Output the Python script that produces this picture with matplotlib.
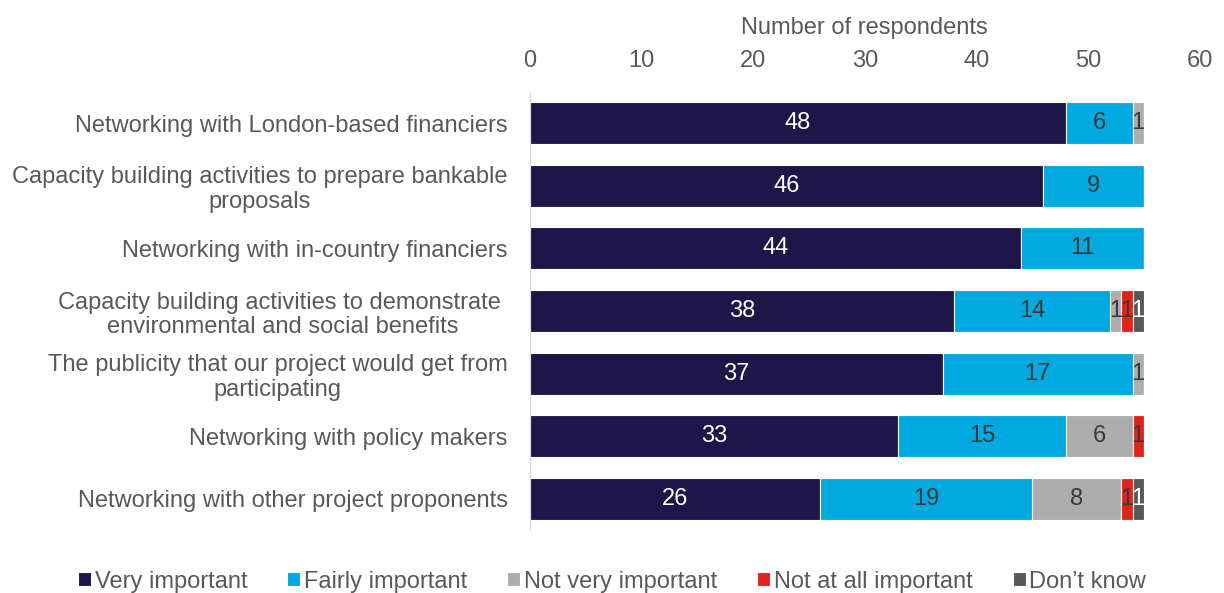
import numpy as np
import matplotlib.pyplot as plt

plt.rcParams['font.family'] = ['Liberation Sans', 'DejaVu Sans']

categories = [
    'Networking with London-based financiers',
    'Capacity building activities to prepare bankable\nproposals',
    'Networking with in-country financiers',
    'Capacity building activities to demonstrate \nenvironmental and social benefits',
    'The publicity that our project would get from\nparticipating',
    'Networking with policy makers',
    'Networking with other project proponents',
]
series_names = ['Very important', 'Fairly important', 'Not very important',
                'Not at all important', 'Don\u2019t know']
very_important = [48, 46, 44, 38, 37, 33, 26]
fairly_important = [6, 9, 11, 14, 17, 15, 19]
not_very_important = [1, 0, 0, 1, 1, 6, 8]
not_at_all_important = [0, 0, 0, 1, 0, 1, 1]
dont_know = [0, 0, 0, 1, 0, 0, 1]

colors = ['#1e1548', '#00a9e0', '#adadad', '#e3231a', '#595959']
label_colors = ['white', '#3a3a3a', '#3a3a3a', '#3a3a3a', 'white']
text_grey = '#595959'
fs = 17

fig = plt.figure(figsize=(12.24, 5.93), dpi=100)
ax = fig.add_axes([0.433, 0.106, 0.547, 0.739])

y = np.arange(len(categories))
left = np.zeros(len(categories))
all_series = [very_important, fairly_important, not_very_important,
              not_at_all_important, dont_know]
for vals, name, col, lc in zip(all_series, series_names, colors, label_colors):
    vals = np.array(vals, dtype=float)
    bars = ax.barh(y, vals, left=left, height=0.67, color=col,
                   edgecolor='white', linewidth=0.8, label=name)
    for b, v in zip(bars, vals):
        if v > 0:
            ax.text(b.get_x() + b.get_width() / 2, b.get_y() + b.get_height() / 2,
                    f'{int(v)}', ha='center', va='center', color=lc, fontsize=fs)
    left += vals

ax.set_xlim(0, 60)
ax.set_ylim(len(categories) - 0.5, -0.5)
ax.set_yticks(y)
ax.set_yticklabels(categories, fontsize=fs, color=text_grey, linespacing=1.15,
                   multialignment='center')
ax.xaxis.tick_top()
ax.xaxis.set_label_position('top')
ax.set_xticks(range(0, 61, 10))
ax.tick_params(axis='x', length=0, labelsize=fs, labelcolor=text_grey, pad=14)
ax.tick_params(axis='y', length=0, pad=16)
ax.set_xlabel('Number of respondents', fontsize=fs, color=text_grey, labelpad=12)
for s in ['top', 'right', 'bottom']:
    ax.spines[s].set_visible(False)
ax.spines['left'].set_color('#d9d9d9')

fig.legend(loc='lower center', bbox_to_anchor=(0.5, -0.035), ncol=5, frameon=False,
           fontsize=fs, labelcolor=text_grey, handlelength=0.55, handleheight=0.55,
           handletextpad=0.15, columnspacing=1.7)

fig.savefig('out.png', dpi=100)
